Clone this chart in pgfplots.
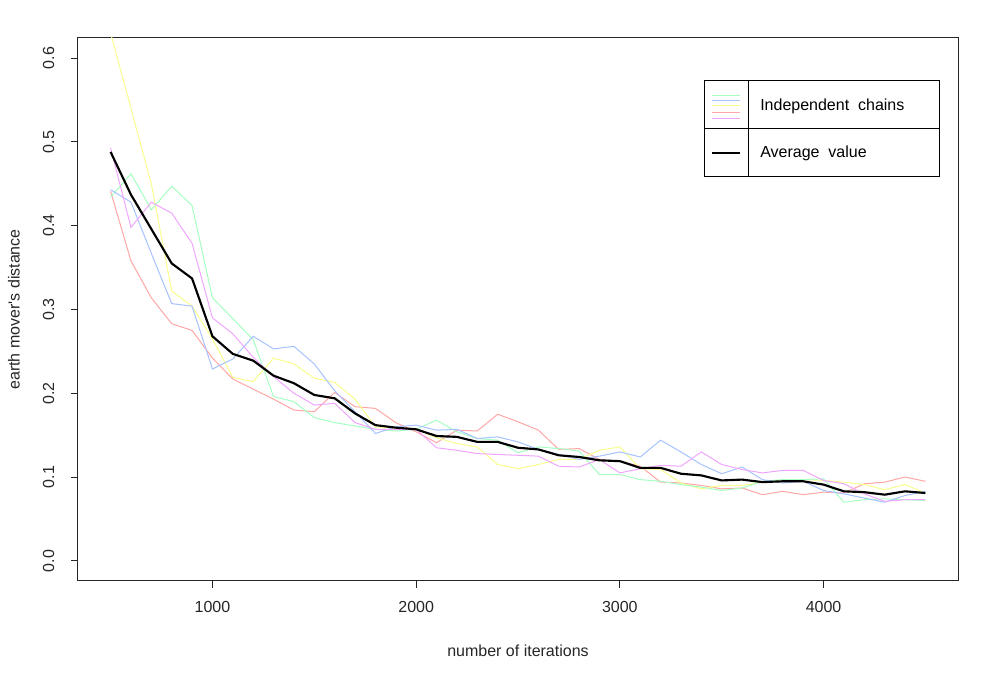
\documentclass[border=0pt]{standalone}
\usepackage{fontspec}
\setmainfont{Liberation Sans}[Ligatures=TeXOff]
\usepackage{pgfplots}
\pgfplotsset{compat=1.18}
\usepackage{pgfplotstable}

\definecolor{cgreen}{HTML}{A6FFC2}
\definecolor{cblue}{HTML}{A6C2FF}
\definecolor{cyellow}{HTML}{F8FF8C}
\definecolor{cred}{HTML}{FFA6A6}
\definecolor{cmag}{HTML}{F0A6FF}

\pgfplotstableread{
x y g b r m a
500 0.630 0.434 0.443 0.441 0.493 0.488
600 0.540 0.462 0.428 0.358 0.398 0.437
700 0.450 0.419 0.367 0.314 0.428 0.396
800 0.322 0.447 0.307 0.283 0.415 0.355
900 0.304 0.424 0.304 0.275 0.379 0.337
1000 0.265 0.314 0.229 0.242 0.290 0.268
1100 0.219 0.289 0.241 0.217 0.271 0.247
1200 0.214 0.264 0.268 0.205 0.243 0.239
1300 0.242 0.196 0.253 0.193 0.220 0.221
1400 0.235 0.190 0.256 0.180 0.200 0.212
1500 0.218 0.171 0.235 0.178 0.186 0.198
1600 0.213 0.165 0.203 0.201 0.188 0.194
1700 0.193 0.161 0.178 0.184 0.165 0.176
1800 0.160 0.157 0.152 0.182 0.157 0.162
1900 0.158 0.155 0.160 0.165 0.157 0.159
2000 0.157 0.157 0.162 0.154 0.157 0.157
2100 0.147 0.168 0.156 0.141 0.135 0.149
2200 0.140 0.154 0.157 0.156 0.132 0.148
2300 0.136 0.146 0.146 0.155 0.128 0.142
2400 0.115 0.144 0.148 0.175 0.127 0.142
2500 0.110 0.129 0.142 0.166 0.126 0.135
2600 0.115 0.136 0.133 0.156 0.125 0.133
2700 0.121 0.134 0.127 0.133 0.113 0.126
2800 0.121 0.131 0.121 0.134 0.112 0.124
2900 0.132 0.103 0.125 0.121 0.121 0.120
3000 0.136 0.103 0.130 0.119 0.105 0.119
3100 0.110 0.097 0.124 0.113 0.110 0.111
3200 0.109 0.095 0.144 0.094 0.114 0.111
3300 0.093 0.091 0.130 0.093 0.113 0.104
3400 0.086 0.088 0.115 0.090 0.130 0.102
3500 0.090 0.084 0.104 0.086 0.115 0.096
3600 0.090 0.087 0.112 0.087 0.109 0.097
3700 0.094 0.095 0.097 0.079 0.105 0.094
3800 0.096 0.097 0.093 0.083 0.108 0.095
3900 0.097 0.097 0.095 0.079 0.108 0.095
4000 0.096 0.098 0.084 0.082 0.096 0.091
4100 0.094 0.070 0.080 0.081 0.092 0.083
4200 0.091 0.073 0.075 0.092 0.080 0.082
4300 0.085 0.074 0.070 0.094 0.071 0.079
4400 0.091 0.073 0.078 0.100 0.073 0.083
4500 0.081 0.072 0.083 0.095 0.073 0.081
}\chains

\begin{document}
\begin{tikzpicture}
\useasboundingbox (0,0) rectangle (748.5pt,510pt);
\begin{axis}[
  at={(58.5pt,74.25pt)}, anchor=south west,
  scale only axis, width=660pt, height=407.25pt,
  xmin=340, xmax=4660, ymin=-0.024, ymax=0.624,
  xtick={1000,2000,3000,4000}, xticklabels={1000,2000,3000,4000},
  ytick={0,0.1,0.2,0.3,0.4,0.5,0.6},
  yticklabels={0.0,0.1,0.2,0.3,0.4,0.5,0.6},
  tick align=outside, major tick length=5.25pt,
  xtick pos=bottom, ytick pos=left,
  axis line style={black!85, line width=0.75pt},
  every tick/.style={black!85, line width=0.75pt},
  tick label style={font=\fontsize{12}{14}\selectfont, text=black!85},
  xticklabel style={yshift=-6.75pt},
  yticklabel style={xshift=-9pt, rotate=90, anchor=south},
  label style={font=\fontsize{12}{14}\selectfont, text=black!85},
  xlabel={number of iterations},
  ylabel={earth mover's distance},
  xlabel style={at={(axis description cs:0.5,-0.129)}, anchor=center},
  ylabel style={at={(axis description cs:-0.0727,0.5)}, anchor=center},
]
\addplot[cred, line width=0.75pt] table[x=x, y=r] {\chains};
\addplot[cyellow, line width=0.75pt] table[x=x, y=y] {\chains};
\addplot[cgreen, line width=0.75pt] table[x=x, y=g] {\chains};
\addplot[cblue, line width=0.75pt] table[x=x, y=b] {\chains};
\addplot[cmag, line width=0.75pt] table[x=x, y=m] {\chains};
\addplot[black, line width=1.6pt] table[x=x, y=a] {\chains};

% legend
\draw[black, line width=0.75pt] (axis description cs:0.7114,0.7440) rectangle (axis description cs:0.9795,0.9208);
\draw[black, line width=0.75pt] (axis description cs:0.7114,0.8324) -- (axis description cs:0.9795,0.8324);
\draw[black, line width=0.75pt] (axis description cs:0.7614,0.7440) -- (axis description cs:0.7614,0.9208);
\draw[cgreen, line width=0.75pt] (axis description cs:0.7205,0.8937) -- (axis description cs:0.7523,0.8937);
\draw[cblue, line width=0.75pt] (axis description cs:0.7205,0.8845) -- (axis description cs:0.7523,0.8845);
\draw[cyellow, line width=0.75pt] (axis description cs:0.7205,0.8748) -- (axis description cs:0.7523,0.8748);
\draw[cred, line width=0.75pt] (axis description cs:0.7205,0.8632) -- (axis description cs:0.7523,0.8632);
\draw[cmag, line width=0.75pt] (axis description cs:0.7205,0.8521) -- (axis description cs:0.7523,0.8521);
\draw[black, line width=1.6pt] (axis description cs:0.7205,0.7882) -- (axis description cs:0.7523,0.7882);
\node[anchor=west, inner sep=0pt, font=\fontsize{12}{14}\selectfont] at (axis description cs:0.775,0.8748) {Independent\ \ chains};
\node[anchor=west, inner sep=0pt, font=\fontsize{12}{14}\selectfont] at (axis description cs:0.775,0.7882) {Average\ \ value};
\end{axis}
\end{tikzpicture}
\end{document}
